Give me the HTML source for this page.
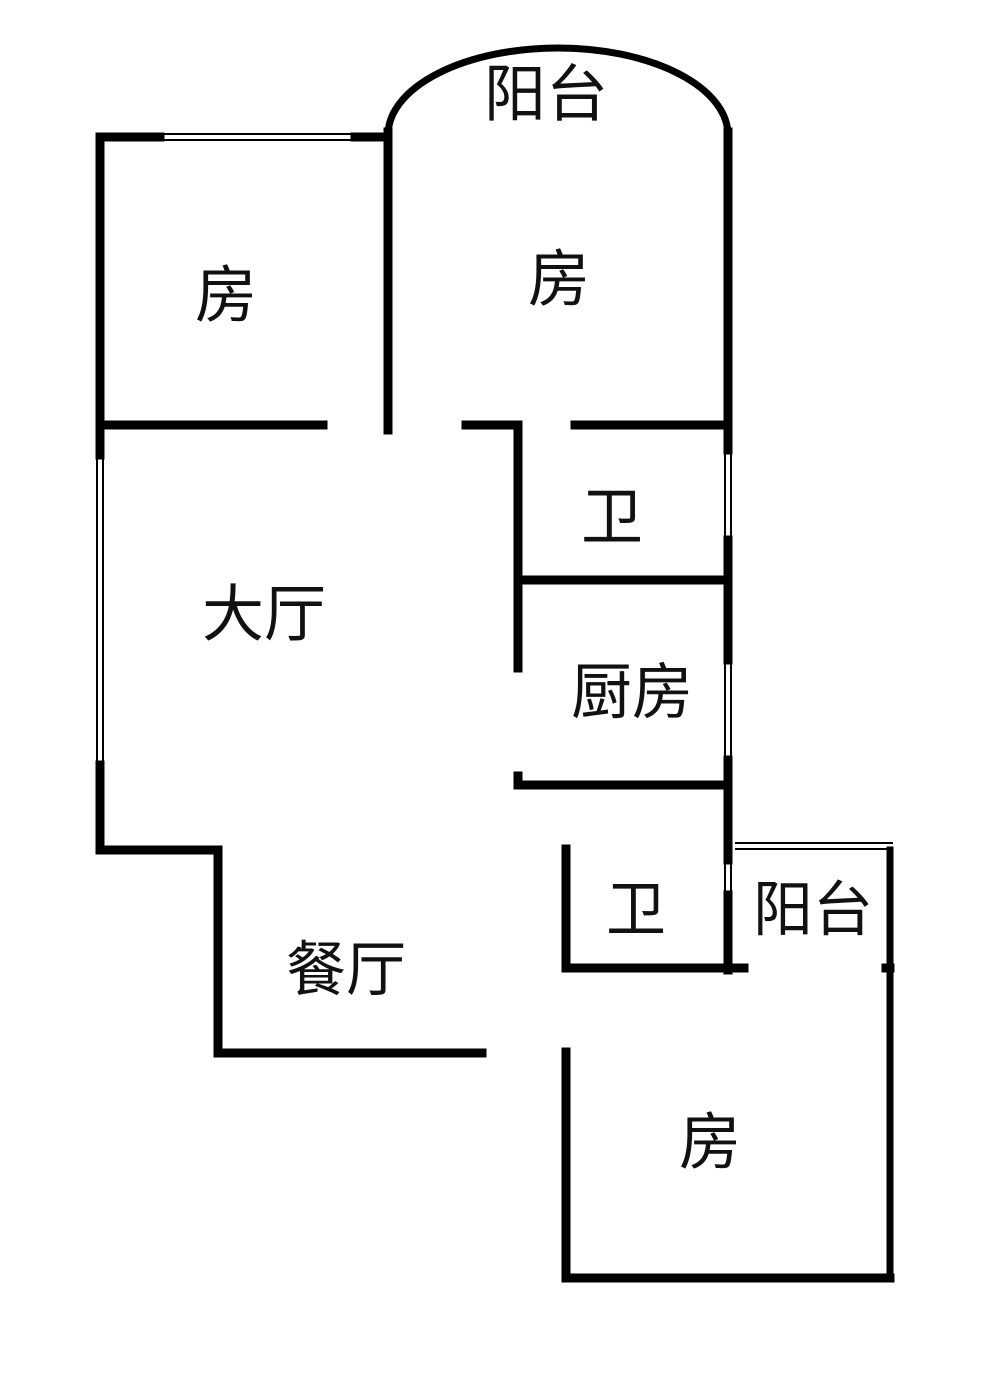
<!DOCTYPE html>
<html><head><meta charset="utf-8"><style>
html,body{margin:0;padding:0;background:#fff;}
svg{display:block;}
text{font-family:"Liberation Sans","Noto Sans CJK SC",sans-serif;fill:#111;text-anchor:middle;dominant-baseline:central;}
</style></head><body>
<svg width="1000" height="1382" viewBox="0 0 1000 1382" xmlns="http://www.w3.org/2000/svg">
<g stroke="#000" stroke-width="9" fill="none" stroke-linecap="square">
  <line x1="100" y1="137" x2="100" y2="455"/>
  <line x1="100" y1="765" x2="100" y2="850"/>
  <line x1="100" y1="137" x2="160" y2="137"/>
  <line x1="355" y1="137" x2="388" y2="137"/>
  <line x1="388" y1="132" x2="388" y2="430"/>
  <path d="M388 135 A170 87 0 0 1 728 135" stroke-width="7"/>
  <line x1="728" y1="132" x2="728" y2="450"/>
  <line x1="728" y1="540" x2="728" y2="660"/>
  <line x1="728" y1="760" x2="728" y2="860"/>
  <line x1="728" y1="895" x2="728" y2="970"/>
  <line x1="100" y1="425" x2="323" y2="425"/>
  <line x1="466" y1="425" x2="518" y2="425"/>
  <line x1="518" y1="425" x2="518" y2="668"/>
  <line x1="575" y1="425" x2="728" y2="425"/>
  <line x1="518" y1="580" x2="728" y2="580"/>
  <line x1="518" y1="776" x2="518" y2="785"/>
  <line x1="518" y1="785" x2="728" y2="785"/>
  <line x1="100" y1="850" x2="218" y2="850"/>
  <line x1="218" y1="850" x2="218" y2="1053"/>
  <line x1="218" y1="1053" x2="482" y2="1053"/>
  <line x1="566" y1="849" x2="566" y2="968"/>
  <line x1="566" y1="968" x2="744" y2="968"/>
  <line x1="566" y1="1052" x2="566" y2="1278"/>
  <line x1="566" y1="1278" x2="890" y2="1278"/>
  <line x1="890" y1="850" x2="890" y2="1278" stroke-width="7"/>
  <line x1="886" y1="968" x2="890" y2="968"/>
</g>
<g stroke="#000" stroke-width="2" fill="none">
  <line x1="160" y1="134" x2="355" y2="134"/>
  <line x1="160" y1="140" x2="355" y2="140"/>
  <line x1="97" y1="455" x2="97" y2="765"/>
  <line x1="103" y1="455" x2="103" y2="765"/>
  <line x1="725" y1="450" x2="725" y2="540"/>
  <line x1="731" y1="450" x2="731" y2="540"/>
  <line x1="725" y1="660" x2="725" y2="760"/>
  <line x1="731" y1="660" x2="731" y2="760"/>
  <line x1="725" y1="860" x2="725" y2="895"/>
  <line x1="731" y1="860" x2="731" y2="895"/>
  <line x1="735" y1="843" x2="893" y2="843"/>
  <line x1="735" y1="849" x2="893" y2="849"/>
</g>
<text x="226" y="296" font-size="62">房</text>
<text x="559" y="280" font-size="62">房</text>
<text x="546" y="95" font-size="62">阳台</text>
<text x="612" y="518" font-size="62">卫</text>
<text x="264" y="615" font-size="62">大厅</text>
<text x="632" y="692" font-size="61">厨房</text>
<text x="636" y="910" font-size="60">卫</text>
<text x="813" y="910" font-size="60">阳台</text>
<text x="346" y="970" font-size="60">餐厅</text>
<text x="710" y="1143" font-size="62">房</text>
</svg>
</body></html>
